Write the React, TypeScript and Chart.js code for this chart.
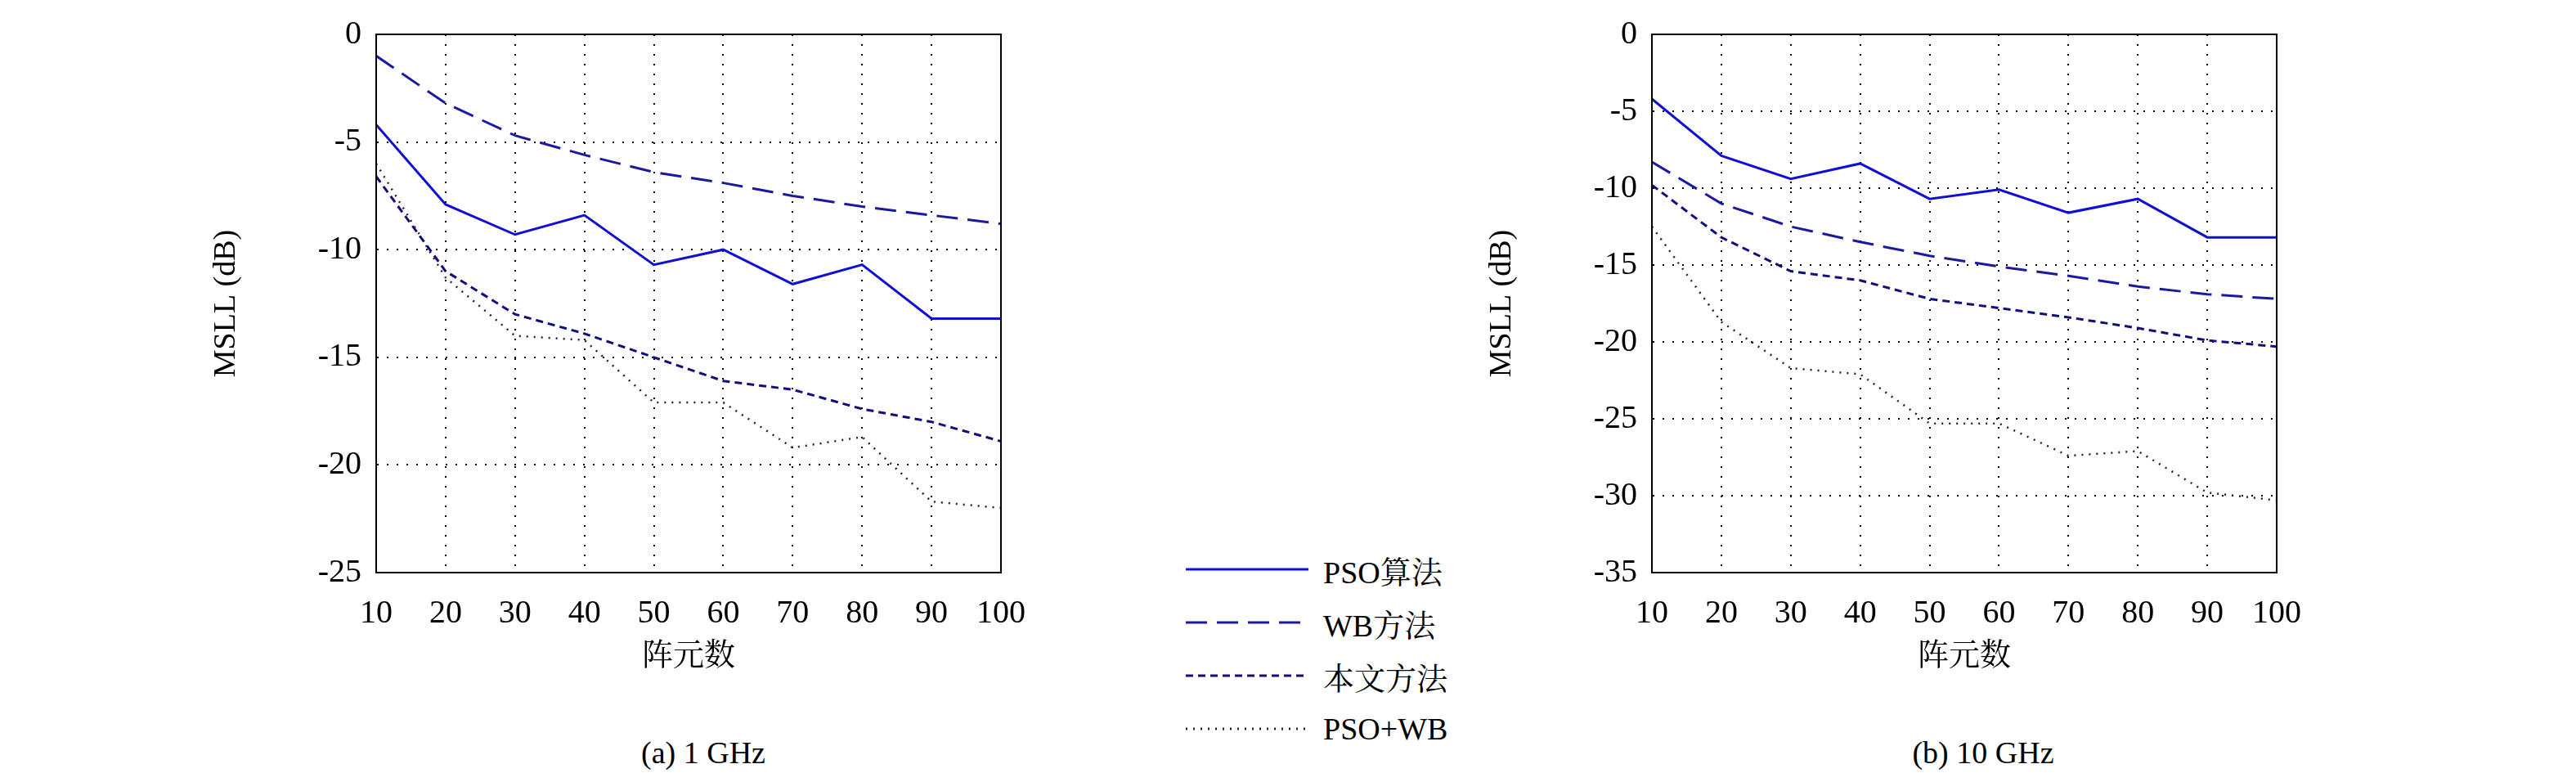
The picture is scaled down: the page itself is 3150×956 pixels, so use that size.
import React, { useEffect, useRef } from "react";
import { Chart, registerables } from "chart.js";
Chart.register(...registerables);

const elements = [10, 20, 30, 40, 50, 60, 70, 80, 90, 100];
const seriesNames = ["PSO算法", "WB方法", "本文方法", "PSO+WB"];
const left_pso = [-4.2, -7.9, -9.3, -8.4, -10.7, -10.0, -11.6, -10.7, -13.2, -13.2];
const left_wb = [-1.0, -3.2, -4.7, -5.6, -6.4, -6.9, -7.5, -8.0, -8.4, -8.8];
const left_ours = [-6.6, -11.0, -13.0, -13.9, -15.0, -16.1, -16.5, -17.4, -18.0, -18.9];
const left_psowb = [-6.0, -11.3, -14.0, -14.2, -17.1, -17.1, -19.2, -18.7, -21.7, -22.0];
const right_pso = [-4.2, -7.9, -9.4, -8.4, -10.7, -10.1, -11.6, -10.7, -13.2, -13.2];
const right_wb = [-8.3, -11.0, -12.5, -13.5, -14.4, -15.1, -15.7, -16.4, -16.9, -17.2];
const right_ours = [-9.8, -13.2, -15.4, -16.0, -17.2, -17.8, -18.4, -19.1, -19.9, -20.3];
const right_psowb = [-12.5, -18.7, -21.7, -22.1, -25.3, -25.3, -27.4, -27.1, -29.8, -30.3];
const captions = ["(a) 1 GHz", "(b) 10 GHz"];

const styles = [
  { color: "#1010d0", dash: [] as number[] },
  { color: "#1a1aa0", dash: [26, 12] },
  { color: "#10107a", dash: [9, 6] },
  { color: "#222233", dash: [2, 7] },
];
const FONT = "'Liberation Serif', 'Noto Serif CJK SC', 'Noto Sans CJK SC', serif";

function Plot({ series, yMin, left }: { series: number[][]; yMin: number; left: number }) {
  const ref = useRef<HTMLCanvasElement>(null);
  useEffect(() => {
    const ch = new Chart(ref.current!, {
      type: "line",
      data: {
        datasets: series.map((s, i) => ({
          label: seriesNames[i],
          data: s.map((v, j) => ({ x: elements[j], y: v })),
          borderColor: styles[i].color,
          borderDash: styles[i].dash,
          borderWidth: i === 3 ? 2.5 : 3,
          pointRadius: 0,
          tension: 0,
          fill: false,
        })),
      },
      options: {
        animation: false,
        responsive: false,
        layout: { padding: { top: 30, right: 16, left: 0, bottom: 0 } },
        plugins: { legend: { display: false }, tooltip: { enabled: false } },
        scales: {
          x: {
            type: "linear",
            min: 10,
            max: 100,
            ticks: { stepSize: 10, color: "#000", font: { family: FONT, size: 40 }, padding: 26 },
            grid: { color: "#000", lineWidth: 2, tickLength: 0 },
            border: { color: "#000", width: 2, dash: [2, 10] },
            title: { display: true, text: "阵元数", color: "#000", font: { family: FONT, size: 38 }, padding: { top: 22 } },
            afterFit: (a: any) => { a.height = 130; },
          },
          y: {
            min: yMin,
            max: 0,
            ticks: { stepSize: 5, color: "#000", font: { family: FONT, size: 40 }, padding: 18 },
            grid: { color: "#000", lineWidth: 2, tickLength: 0 },
            border: { color: "#000", width: 2, dash: [2, 10] },
            title: { display: true, text: "MSLL (dB)", color: "#000", font: { family: FONT, size: 38 }, padding: { bottom: 24 } },
            afterFit: (a: any) => { a.width = 210; },
          },
        },
      },
      plugins: [{
        id: "frame",
        afterDraw(c: any) {
          const { ctx, chartArea: a } = c;
          ctx.save();
          ctx.strokeStyle = "#000";
          ctx.lineWidth = 2;
          ctx.setLineDash([]);
          ctx.strokeRect(a.left, a.top, a.right - a.left, a.bottom - a.top);
          ctx.restore();
        },
      }],
    });
    return () => ch.destroy();
  }, []);
  return <canvas ref={ref} width={1030} height={830} style={{ position: "absolute", left, top: 0, width: 1030, height: 830 }} />;
}

export default function App() {
  return (
    <div style={{ position: "absolute", left: 0, top: 0, width: 3150, height: 956, background: "#fff", overflow: "hidden" }}>
      <Plot series={[left_pso, left_wb, left_ours, left_psowb]} yMin={-25} left={250} />
      <Plot series={[right_pso, right_wb, right_ours, right_psowb]} yMin={-35} left={1810} />
      {seriesNames.map((n, i) => (
        <div key={n} style={{ position: "absolute", left: 1450, top: 696 + i * 65 - 22, height: 44, display: "flex", alignItems: "center" }}>
          <svg width={150} height={10}>
            <line x1={0} y1={5} x2={150} y2={5} stroke={styles[i].color} strokeWidth={3} strokeDasharray={styles[i].dash.join(" ") || undefined} />
          </svg>
          <span style={{ marginLeft: 18, fontFamily: FONT, fontSize: 38, color: "#000" }}>{n}</span>
        </div>
      ))}
      {captions.map((c, i) => (
        <div key={c} style={{ position: "absolute", left: i === 0 ? 660 : 2225, width: 400, top: 898, textAlign: "center", fontFamily: FONT, fontSize: 38, color: "#000" }}>{c}</div>
      ))}
    </div>
  );
}
